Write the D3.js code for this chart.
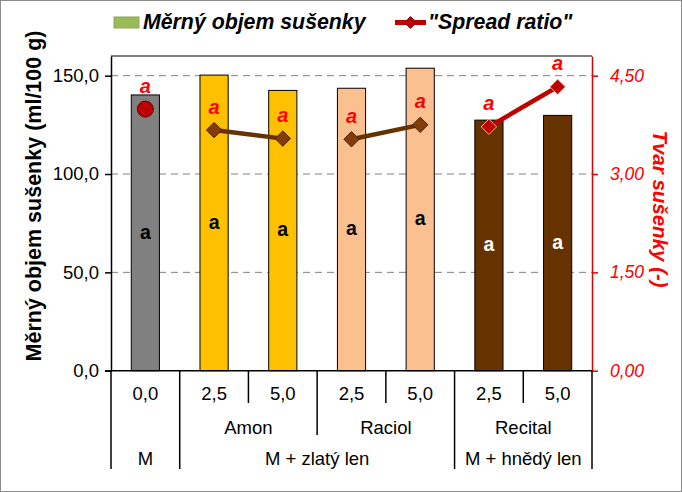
<!DOCTYPE html>
<html><head><meta charset="utf-8">
<script src="https://cdn.jsdelivr.net/npm/d3@7"></script>
<style>
html,body{margin:0;padding:0;background:#fff;}
svg{display:block;font-family:"Liberation Sans",Arial,sans-serif;}
</style></head>
<body>
<svg id="c" width="682" height="492"></svg>
<script>
const doses = ["0,0","2,5","5,0","2,5","5,0","2,5","5,0"];
const varieties = ["", "Amon","Amon","Raciol","Raciol","Recital","Recital"];
const groups = ["M","M + zlatý len","M + zlatý len","M + zlatý len","M + zlatý len","M + hnědý len","M + hnědý len"];
const volume = [140.2,150.3,142.5,143.6,153.8,127.4,129.8];
const spread = [3.99,3.67,3.54,3.53,3.75,3.72,4.33];
const volLetters = ["a","a","a","a","a","a","a"];
const spreadLetters = ["a","a","a","a","a","a","a"];
const leftTicks = [0,50,100,150];
const rightTicks = [0,1.5,3,4.5];
const seriesNames = ["Měrný objem sušenky","\"Spread ratio\""];

const barColor = {"":"#808080","Amon":"#FFC000","Raciol":"#FAC090","Recital":"#663300"};
const letterColor = {"":"#000","Amon":"#000","Raciol":"#000","Recital":"#fff"};

const svg = d3.select("#c");
const L=111, R=592, T=56, B=370.7;
const ids = d3.range(doses.length);
const x = d3.scaleBand().domain(ids).range([L,R]).padding(0);
const y = d3.scaleLinear().domain([0,160]).range([B,T]);
const yR = d3.scaleLinear().domain([0,4.8]).range([B,T]);
const red = "#FF0000";
const FS = 18.5;

// outer border
svg.append("rect").attr("x",0.5).attr("y",0.5).attr("width",681).attr("height",491)
  .attr("fill","#fff").attr("stroke","#8c8c8c");

// gridlines
svg.append("g").selectAll("line").data(leftTicks.filter(d=>d>0)).join("line")
  .attr("x1",L).attr("x2",R).attr("y1",d=>y(d)).attr("y2",d=>y(d))
  .attr("stroke","#808080").attr("stroke-dasharray","7,5").attr("stroke-width",1);

// top frame
svg.append("line").attr("x1",L).attr("x2",R).attr("y1",T).attr("y2",T).attr("stroke","#000");

// bars
const bw = x.bandwidth()*0.41;
svg.append("g").selectAll("rect").data(ids).join("rect")
  .attr("x",i=>x(i)+x.bandwidth()/2-bw/2).attr("width",bw)
  .attr("y",i=>y(volume[i])).attr("height",i=>B-y(volume[i]))
  .attr("fill",i=>barColor[varieties[i]]).attr("stroke","#000").attr("stroke-width",1);

// bar letters
svg.append("g").selectAll("text").data(ids).join("text")
  .attr("x",i=>x(i)+x.bandwidth()/2).attr("y",i=>(y(volume[i])+B)/2)
  .attr("dy","0.3em").attr("text-anchor","middle")
  .attr("font-size",19.5).attr("font-weight","bold")
  .attr("fill",i=>letterColor[varieties[i]]).text(i=>volLetters[i]);

// spread lines
const cx = i=>x(i)+x.bandwidth()/2;
const segs = [[1,2,"#663300"],[3,4,"#663300"],[5,6,"#C00000"]];
segs.forEach(([a,b,c])=>{
  svg.append("path").attr("d",d3.line().x(cx).y(i=>yR(spread[i]))([a,b]))
    .attr("stroke",c).attr("stroke-width",4.5).attr("fill","none");
});
// markers
const diamond = d3.symbol().type(d3.symbolDiamond2).size(150);
svg.append("g").selectAll("path").data(ids.filter(i=>i>0)).join("path")
  .attr("d",diamond)
  .attr("transform",i=>`translate(${cx(i)},${yR(spread[i])})`)
  .attr("fill",i=>varieties[i]==="Recital"?"#C00000":"#843C0C")
  .attr("stroke",i=>varieties[i]==="Recital"?"#FFB0A0":"#4a2000").attr("stroke-width",1);
svg.append("circle").attr("cx",cx(0)).attr("cy",yR(spread[0])).attr("r",8)
  .attr("fill","#C00000").attr("stroke","#600000").attr("stroke-width",1);

// spread letters
svg.append("g").selectAll("text").data(ids).join("text")
  .attr("x",cx).attr("y",i=>yR(spread[i])-22.5).attr("dy","0.3em")
  .attr("text-anchor","middle").attr("font-size",20).attr("font-weight","bold")
  .attr("font-style","italic").attr("fill",red).text(i=>spreadLetters[i]);

// left axis
const fmt1 = d=>d3.format(".1f")(d).replace(".",",");
const fmt2 = d=>d3.format(".2f")(d).replace(".",",");
const ga = svg.append("g").attr("transform",`translate(${L},0)`)
  .call(d3.axisLeft(y).tickValues(leftTicks).tickSize(6).tickSizeOuter(0).tickPadding(6).tickFormat(fmt1));
ga.select(".domain").attr("stroke","#000").attr("stroke-width",1.5);
ga.selectAll(".tick line").attr("stroke","#000").attr("stroke-width",1.5);
ga.selectAll("text").attr("font-size",FS).attr("fill","#000").attr("font-family","Liberation Sans, Arial, sans-serif");

// right axis
const gr = svg.append("g").attr("transform",`translate(${R},0)`)
  .call(d3.axisRight(yR).tickValues(rightTicks).tickSize(6).tickSizeOuter(0).tickPadding(12).tickFormat(fmt2));
gr.select(".domain").attr("stroke","#E00000").attr("stroke-width",1.5);
gr.selectAll(".tick line").attr("stroke","#E00000").attr("stroke-width",1.5);
gr.selectAll("text").attr("font-size",17.5).attr("fill",red).attr("font-style","italic")
  .attr("font-family","Liberation Sans, Arial, sans-serif");

// bottom baseline
svg.append("line").attr("x1",L-6).attr("x2",R).attr("y1",B).attr("y2",B).attr("stroke","#000").attr("stroke-width",1.5);

// category axis: separators
const g3 = svg.append("g").attr("stroke","#000").attr("stroke-width",1.5);
const boundaries = d3.range(doses.length+1);
boundaries.forEach(k=>{
  const xx = k<doses.length ? x(k) : R;
  let yEnd = 403;
  if(k===0||k===doses.length||groups[k]!==groups[k-1]) yEnd = 469;
  else if(varieties[k]!==varieties[k-1]) yEnd = 435;
  g3.append("line").attr("x1",xx).attr("x2",xx).attr("y1",B).attr("y2",yEnd);
});
// dose labels
svg.append("g").selectAll("text").data(ids).join("text")
  .attr("x",cx).attr("y",394).attr("dy","0.35em").attr("text-anchor","middle")
  .attr("font-size",FS).attr("fill","#000").text(i=>doses[i]);
// variety & group labels
function spans(arr){
  const out=[]; arr.forEach((v,i)=>{ if(out.length&&out[out.length-1].v===v) out[out.length-1].e=i; else out.push({v,s:i,e:i}); });
  return out;
}
spans(varieties).filter(s=>s.v).forEach(s=>{
  svg.append("text").attr("x",(x(s.s)+x(s.e)+x.bandwidth())/2).attr("y",427.5).attr("dy","0.35em")
    .attr("text-anchor","middle").attr("font-size",FS).text(s.v);
});
spans(groups).forEach(s=>{
  svg.append("text").attr("x",(x(s.s)+x(s.e)+x.bandwidth())/2).attr("y",458.5).attr("dy","0.35em")
    .attr("text-anchor","middle").attr("font-size",FS).text(s.v);
});

// axis titles
svg.append("text").attr("transform",`translate(41,196) rotate(-90)`)
  .attr("text-anchor","middle").attr("font-size",21.5).attr("font-weight","bold")
  .text("Měrný objem sušenky (ml/100 g)");
svg.append("text").attr("transform",`translate(653,209) rotate(90)`)
  .attr("text-anchor","middle").attr("font-size",20.5).attr("font-weight","bold")
  .attr("font-style","italic").attr("fill",red).text("Tvar sušenky (-)");

// legend
const lg = svg.append("g");
lg.append("rect").attr("x",114).attr("y",17).attr("width",25).attr("height",11)
  .attr("fill","#9BBB59").attr("stroke","#8aa850");
lg.append("text").attr("x",143).attr("y",28.5).attr("font-size",21.3).attr("font-weight","bold")
  .attr("font-style","italic").text(seriesNames[0]);
lg.append("line").attr("x1",395).attr("x2",426).attr("y1",22.5).attr("y2",22.5)
  .attr("stroke","#C00000").attr("stroke-width",5);
lg.append("path").attr("d",d3.symbol().type(d3.symbolDiamond2).size(90))
  .attr("transform","translate(410.5,22.5)").attr("fill","#C00000").attr("stroke","#900000");
lg.append("text").attr("x",428).attr("y",28.5).attr("font-size",21.3).attr("font-weight","bold")
  .attr("font-style","italic").text(seriesNames[1]);
</script>
</body></html>
